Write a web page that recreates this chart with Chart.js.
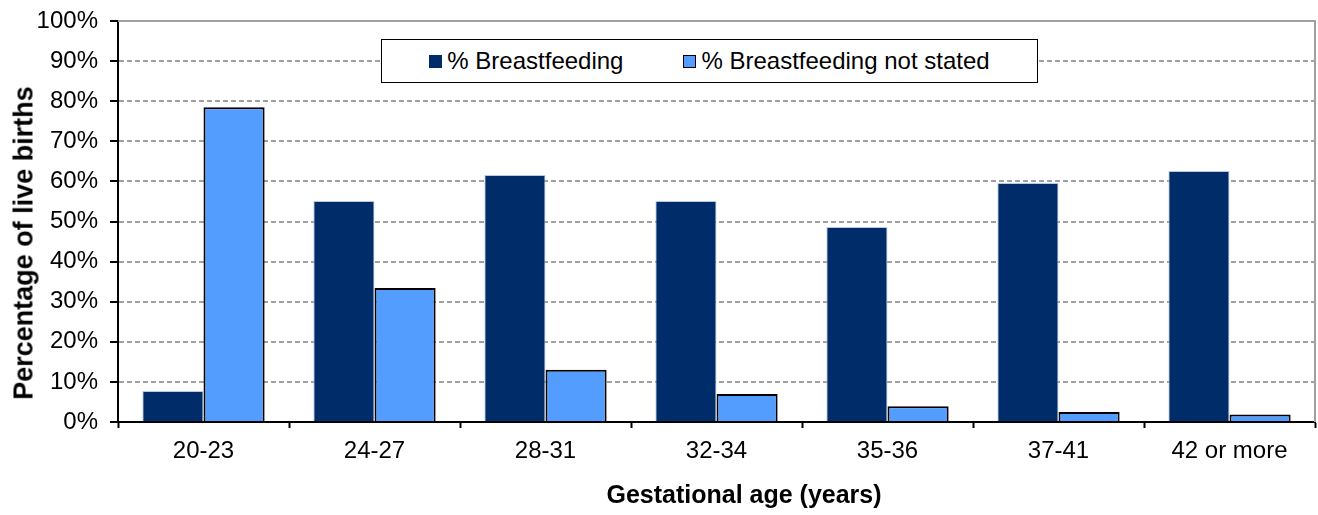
<!DOCTYPE html>
<html>
<head>
<meta charset="utf-8">
<script src="https://cdn.jsdelivr.net/npm/chart.js@4.4.1/dist/chart.umd.min.js"></script>
<style>
    html, body { margin: 0; padding: 0; background: #fff; }
    #wrap { position: relative; width: 1318px; height: 515px; font-family: 'Liberation Sans', Arial, sans-serif; }
    #legend {
        position: absolute; left: 381px; top: 39px; width: 655px; height: 42px;
        border: 1px solid #000; background: #fff;
        display: flex; align-items: center; justify-content: center; gap: 60px;
        font-size: 24px; color: #000;
    }
    #legend .item { display: flex; align-items: center; }
    #legend .sw { width: 13px; height: 13px; margin-right: 5px; box-sizing: border-box; }
    .title { position: absolute; font-weight: bold; color: #000; white-space: nowrap; }
    #xTitle { left: 744px; top: 494px; font-size: 25px; transform: translate(-50%, -50%); }
    #yTitle { left: 24px; top: 243px; font-size: 27px; transform: translate(-50%, -50%) rotate(-90deg); }
</style>
</head>
<body>
<div id="wrap">
    <canvas id="chart" width="1318" height="515"></canvas>
    <div id="legend"></div>
    <div class="title" id="xTitle">Gestational age (years)</div>
    <div class="title" id="yTitle">Percentage of live births</div>
</div>
<script>
// ============================================
// DATOS
// ============================================
const categories = ['20-23', '24-27', '28-31', '32-34', '35-36', '37-41', '42 or more'];
const breastfeeding = [7.7, 55.1, 61.6, 55.1, 48.6, 59.6, 62.6];
const notStated = [78.5, 33.4, 13.0, 7.0, 3.9, 2.5, 1.9];
const seriesLabels = ['% Breastfeeding', '% Breastfeeding not stated'];
const yTicks = [0, 10, 20, 30, 40, 50, 60, 70, 80, 90, 100];

const DARK = '#002D69';
const LIGHT = '#529DFF';
const FONT = "'Liberation Sans', Arial, sans-serif";

// borde superior y derecho del area de trazado
const plotBorder = {
    id: 'plotBorder',
    afterDraw(chart) {
        const { ctx, chartArea } = chart;
        ctx.save();
        ctx.strokeStyle = '#a0a0a0';
        ctx.lineWidth = 2;
        ctx.beginPath();
        ctx.moveTo(chartArea.left, chartArea.top);
        ctx.lineTo(chartArea.right, chartArea.top);
        ctx.lineTo(chartArea.right, chartArea.bottom);
        ctx.stroke();
        ctx.restore();
    }
};

const chart = new Chart(document.getElementById('chart'), {
    type: 'bar',
    data: {
        labels: categories,
        datasets: [
            {
                label: seriesLabels[0],
                data: breastfeeding,
                backgroundColor: DARK,
                borderColor: '#b8c8e0',
                borderWidth: 1
            },
            {
                label: seriesLabels[1],
                data: notStated,
                backgroundColor: LIGHT,
                borderColor: '#000',
                borderWidth: 2
            }
        ]
    },
    options: {
        responsive: false,
        animation: false,
        layout: { padding: { top: 21, right: 3, left: 0, bottom: 0 } },
        datasets: { bar: { barPercentage: 1, categoryPercentage: 0.715 } },
        plugins: {
            legend: { display: false },
            tooltip: { enabled: false }
        },
        scales: {
            x: {
                afterFit: (s) => { s.height = 93; s.paddingLeft = 0; s.paddingRight = 0; },
                grid: {
                    drawOnChartArea: false,
                    offset: true,
                    tickLength: 6,
                    tickColor: '#000',
                    tickWidth: 2
                },
                border: { color: '#000', width: 2 },
                ticks: {
                    color: '#000',
                    padding: 9,
                    font: { family: FONT, size: 24 }
                }
            },
            y: {
                min: 0,
                max: 100,
                afterFit: (s) => { s.width = 118; s.paddingTop = 0; s.paddingBottom = 0; },
                afterBuildTicks: (s) => { s.ticks = yTicks.map(v => ({ value: v })); },
                grid: {
                    color: '#a0a0a0',
                    lineWidth: 2,
                    tickLength: 8,
                    tickColor: '#000',
                    tickWidth: 2
                },
                border: { color: '#000', width: 2, dash: [5, 3] },
                ticks: {
                    color: '#000',
                    padding: 12,
                    font: { family: FONT, size: 24 },
                    callback: (v) => v + '%'
                }
            }
        }
    },
    plugins: [plotBorder]
});

// leyenda en HTML a partir de los datasets
document.getElementById('legend').innerHTML = chart.data.datasets.map(ds => `
    <div class="item">
        <span class="sw" style="background:${ds.backgroundColor};border:${ds.borderColor === '#000' ? '1.5px solid #000' : 'none'}"></span>
        <span>${ds.label}</span>
    </div>
`).join('');
</script>
</body>
</html>
